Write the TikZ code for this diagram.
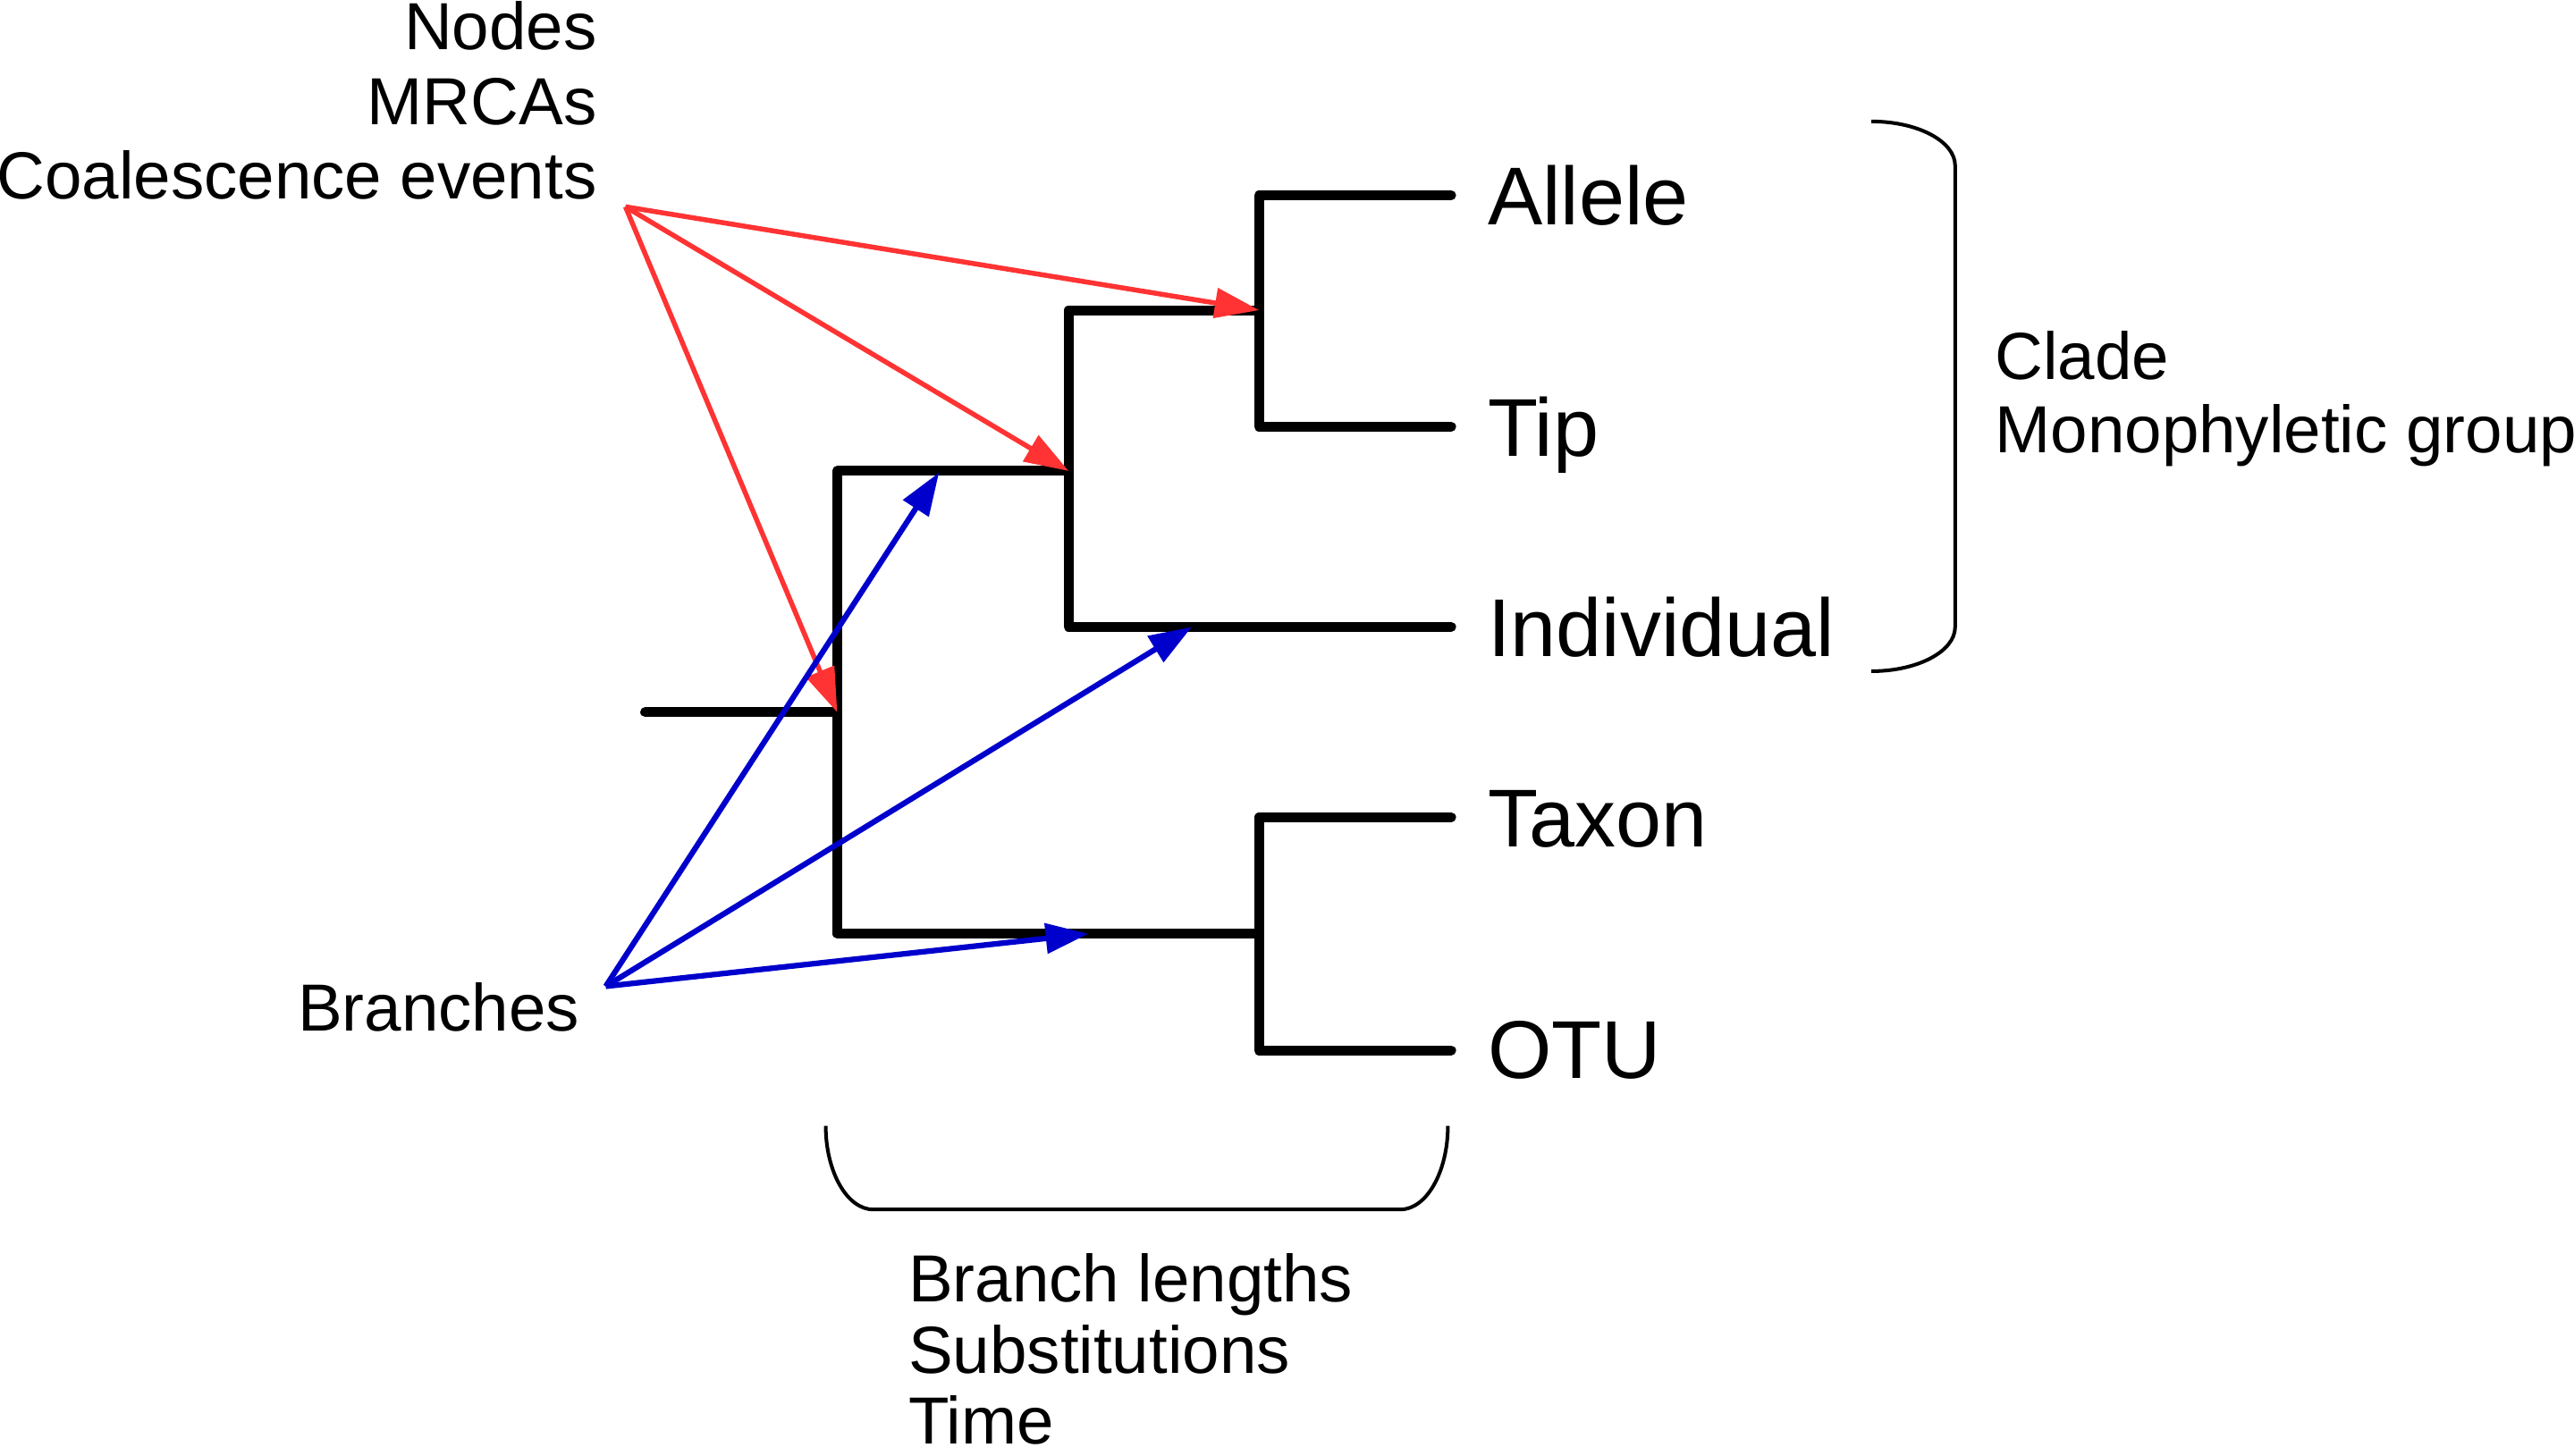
\documentclass[tikz,border=0pt]{standalone}
\usepackage{fontspec}
\setmainfont{Liberation Sans}
\usetikzlibrary{arrows.meta}
\definecolor{nodered}{HTML}{FF3333}
\definecolor{branchblue}{HTML}{0000CC}
\begin{document}
\begin{tikzpicture}[x=0.5pt,y=-0.5pt,
  tree/.style={line width=3pt, line cap=round, line join=round},
  redarrow/.style={draw=nodered, line width=1.5pt, -{Triangle[length=13.5pt,width=9pt]}},
  bluearrow/.style={draw=branchblue, line width=1.7pt, -{Triangle[length=13pt,width=9pt]}},
  brace/.style={line width=1.1pt},
  lbl/.style={font=\fontsize{20.3}{23}\selectfont, inner sep=0pt},
  leaf/.style={font=\fontsize{25}{30}\selectfont, inner sep=0pt, anchor=base west}]
\useasboundingbox (0,0) rectangle (1568,887);

% tree coordinates
\coordinate (stub) at (393,434);
\coordinate (n0) at (510,434);
\coordinate (n0t) at (510,287);
\coordinate (n0b) at (510,569);
\coordinate (n1) at (651,287);
\coordinate (n1t) at (651,189);
\coordinate (n1b) at (651,382);
\coordinate (n2) at (767,189);
\coordinate (n2t) at (767,119);
\coordinate (n2b) at (767,260);
\coordinate (n3) at (767,569);
\coordinate (n3t) at (767,498);
\coordinate (n3b) at (767,640);
\coordinate (eA) at (884,119);
\coordinate (eT) at (884,260);
\coordinate (eI) at (884,382);
\coordinate (eX) at (884,498);
\coordinate (eO) at (884,640);

% tree
\draw[tree] (stub) -- (n0);
\draw[tree] (n1) -- (n0t) -- (n0b) -- (n3);
\draw[tree] (n2) -- (n1t) -- (n1b) -- (eI);
\draw[tree] (eA) -- (n2t) -- (n2b) -- (eT);
\draw[tree] (eX) -- (n3t) -- (n3b) -- (eO);

% leaf labels
\node[leaf] (allele) at (906,137) {Allele};
\node[leaf] (tip) at (906,278) {Tip};
\node[leaf] (indiv) at (906,400) {Individual};
\node[leaf] (taxon) at (906,516) {Taxon};
\node[leaf] (otu) at (906,657) {OTU};

% left labels
\node[lbl, anchor=base east] (nodes) at (364,30) {Nodes};
\node[lbl, anchor=base east] (mrcas) at (364,76) {MRCAs};
\node[lbl, anchor=base east] (coal) at (364,121) {Coalescence events};
\node[lbl, anchor=base west] (branches) at (181,628) {Branches};

% clade labels
\node[lbl, anchor=base west] (clade) at (1215,231) {Clade};
\node[lbl, anchor=base west] (mono) at (1215,276) {Monophyletic group};

% branch length labels
\node[lbl, anchor=base west] (blen) at (553,793) {Branch lengths};
\node[lbl, anchor=base west] (subst) at (553,837) {Substitutions};
\node[lbl, anchor=base west] (time) at (553,880) {Time};

% red arrows
\coordinate (redsrc) at (381,126);
\draw[redarrow] (redsrc) -- (n2);
\draw[redarrow] (redsrc) -- (n1);
\draw[redarrow] (redsrc) -- (n0);

% blue arrows
\coordinate (bluesrc) at (369,601);
\coordinate (b1) at (572,288);
\coordinate (b2) at (726,382);
\coordinate (b3) at (663,569);
\draw[bluearrow] (bluesrc) -- (b1);
\draw[bluearrow] (bluesrc) -- (b2);
\draw[bluearrow] (bluesrc) -- (b3);

% braces
\draw[brace] (1140,74) .. controls (1168,74) and (1191,86) .. (1191,101) -- (1191,382) .. controls (1191,397) and (1168,409) .. (1140,409);
\draw[brace] (503,686) .. controls (503,714) and (516,737) .. (532,737) -- (853,737) .. controls (869,737) and (882,714) .. (882,686);
\end{tikzpicture}
\end{document}
